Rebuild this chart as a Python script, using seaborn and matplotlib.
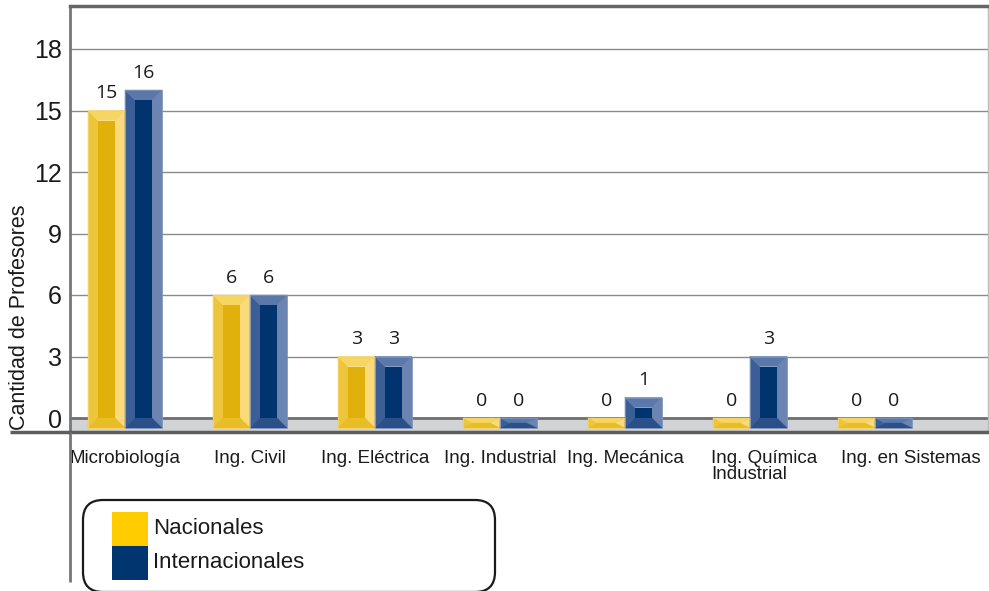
import matplotlib
matplotlib.use("Agg")
import matplotlib.pyplot as plt
import matplotlib.transforms as mtransforms
from matplotlib.patches import Polygon, Rectangle, FancyBboxPatch
import seaborn as sns
import pandas as pd

# Faculty counts per programme
categories = ["Microbiología", "Ing. Civil", "Ing. Eléctrica", "Ing. Industrial",
              "Ing. Mecánica", "Ing. Química\nIndustrial", "Ing. en Sistemas"]
series = ["Nacionales", "Internacionales"]
nacionales = [15, 6, 3, 0, 0, 0, 0]
internacionales = [16, 6, 3, 0, 1, 3, 0]
yticks = [0, 3, 6, 9, 12, 15, 18]

YELLOW = "#FFCC00"
BLUE = "#003670"
# bevel shades: left, right, top, bottom, inner, outline
SHADES = {
    YELLOW: dict(left="#EEC43A", right="#FBDA7C", top="#F6D560", bottom="#E9BD25",
                 inner="#E0B00B", edge="#F3D36A"),
    BLUE: dict(left="#3B5E96", right="#6B84B1", top="#5A78A9", bottom="#2B4F88",
               inner="#00346F", edge="#7F93B9"),
}

df = pd.DataFrame({
    "Carrera": categories * 2,
    "Tipo": [series[0]] * len(categories) + [series[1]] * len(categories),
    "Cantidad": nacionales + internacionales,
})

sns.set_theme(style="white")
plt.rcParams["font.family"] = ["Liberation Sans", "DejaVu Sans"]

W, H = 989, 591
fig = plt.figure(figsize=(W / 100, H / 100), dpi=100)
ax = fig.add_axes([70 / W, 1 - 432 / H, 918 / W, 426 / H])

sns.barplot(data=df, x="Carrera", y="Cantidad", hue="Tipo",
            palette=[YELLOW, BLUE], width=0.592, dodge=True,
            saturation=1, errorbar=None, legend=False, ax=ax)

px_x = 125.0   # pixels per category unit
px_y = 20.5    # pixels per value unit
floor = -10 / px_y
ax.set_xlim(-55 / px_x, 6 + 113 / px_x)
ax.set_ylim(-14 / px_y, 412 / px_y)

# floor band and grid
ax.axhspan(ax.get_ylim()[0], 0, color="#D2D3D5", zorder=0.5, lw=0)
for t in yticks[1:]:
    ax.axhline(t, color="#8A8A8A", lw=1.0, zorder=0.6)
ax.axhline(0, color="#6E6E6E", lw=2.0, zorder=0.7)

# bevelled bars
bev_x = 10 / px_x
bev_y = 10 / px_y
for container, color in zip(ax.containers, [YELLOW, BLUE]):
    sh = SHADES[color]
    for bar in container:
        val = bar.get_height()
        x0 = bar.get_x()
        x1 = x0 + bar.get_width()
        y0, y1 = floor, val
        bar.set_visible(False)
        dx = min(bev_x, (x1 - x0) / 2)
        dy = min(bev_y, (y1 - y0) / 2)
        ix0, ix1, iy0, iy1 = x0 + dx, x1 - dx, y0 + dy, y1 - dy
        polys = [
            ([(x0, y0), (x0, y1), (ix0, iy1), (ix0, iy0)], sh["left"]),
            ([(x1, y0), (x1, y1), (ix1, iy1), (ix1, iy0)], sh["right"]),
            ([(x0, y1), (x1, y1), (ix1, iy1), (ix0, iy1)], sh["top"]),
            ([(x0, y0), (x1, y0), (ix1, iy0), (ix0, iy0)], sh["bottom"]),
        ]
        for pts, c in polys:
            ax.add_patch(Polygon(pts, closed=True, fc=c, ec=c, lw=0.3, zorder=3))
        if iy1 > iy0:
            ax.add_patch(Rectangle((ix0, iy0), ix1 - ix0, iy1 - iy0,
                                   fc=sh["inner"], ec="none", zorder=3.1))
        ax.add_patch(Rectangle((x0, y0), x1 - x0, y1 - y0, fc="none",
                               ec=sh["edge"], lw=0.6, zorder=3.2))
        ax.annotate(f"{int(round(val))}", xy=((x0 + x1) / 2, val),
                    xytext=(0, 6), textcoords="offset points",
                    ha="center", va="bottom", fontsize=14,
                    family=["Open Sans", "DejaVu Sans"], color="#1A1A1A",
                    zorder=5)

# axes styling
ax.set_yticks(yticks)
ax.set_yticklabels([str(t) for t in yticks], fontsize=18, color="#1A1A1A")
ax.tick_params(axis="y", length=0, pad=6)
ax.tick_params(axis="x", length=0, pad=13, labelsize=13.5, labelcolor="#1A1A1A")

# nudge the last two category labels to the right so they do not collide
label_shift_px = {5: 14, 6: 36}
for i, lbl in enumerate(ax.get_xticklabels()):
    lbl.set_multialignment("left")
    lbl.set_linespacing(0.9)
    if i in label_shift_px:
        off = mtransforms.ScaledTranslation(label_shift_px[i] / 100, 0,
                                            fig.dpi_scale_trans)
        lbl.set_transform(lbl.get_transform() + off)
ax.set_xlabel("")
ax.set_ylabel("Cantidad de Profesores", fontsize=15.5, color="#1A1A1A")
ax.yaxis.set_label_coords(-0.044, 0.27)

for side, sp in ax.spines.items():
    sp.set_visible(True)
ax.spines["left"].set_color("#777777")
ax.spines["left"].set_linewidth(2.0)
ax.spines["top"].set_color("#666666")
ax.spines["top"].set_linewidth(2.5)
ax.spines["right"].set_color("#BBBBBB")
ax.spines["right"].set_linewidth(1.0)
ax.spines["bottom"].set_color("#5E5E5E")
ax.spines["bottom"].set_linewidth(2.5)

# overlay in pixel units for the legend and axis extensions
ov = fig.add_axes([0, 0, 1, 1], zorder=10)
ov.set_xlim(0, W)
ov.set_ylim(H, 0)
ov.axis("off")
ov.patch.set_alpha(0)
ov.plot([70, 70], [432, 582], color="#777777", lw=2.0, solid_capstyle="butt")
ov.plot([10, 70], [432, 432], color="#5E5E5E", lw=2.5, solid_capstyle="butt")

ov.add_patch(FancyBboxPatch((83, 500), 412, 92,
                            boxstyle="round,pad=0,rounding_size=20",
                            fc="white", ec="#1A1A1A", lw=1.6))
for i, (name, color) in enumerate(zip(series, [YELLOW, BLUE])):
    top = 512 + i * 34
    ov.add_patch(Rectangle((112, top), 36, 34, fc=color, ec="none"))
    ov.text(153, top + 17, name, fontsize=16, va="center", ha="left",
            color="#1A1A1A")

fig.savefig("out.png", dpi=100)
